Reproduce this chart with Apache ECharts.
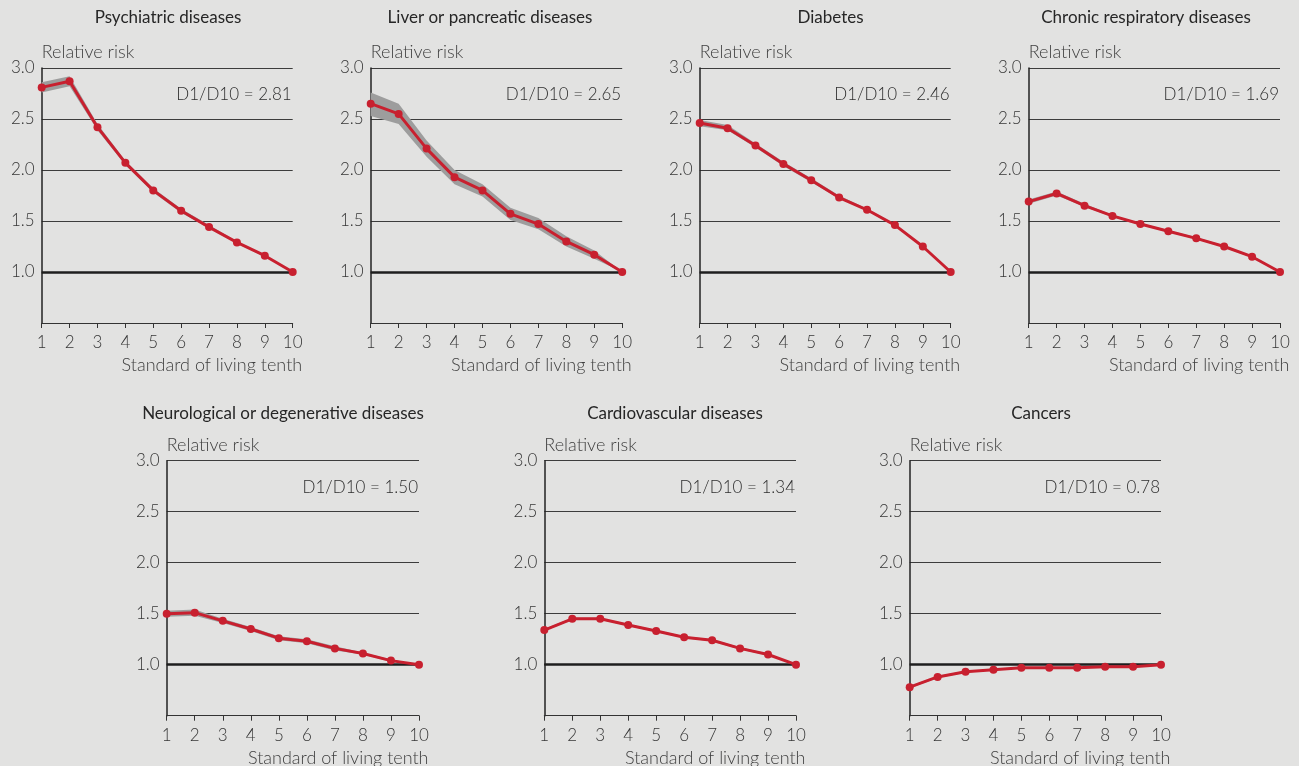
<!DOCTYPE html>
<html>
<head>
<meta charset="utf-8">
<script src="https://cdn.jsdelivr.net/npm/echarts@6/dist/echarts.min.js"></script>
<style>
  html, body { margin: 0; padding: 0; background: #e2e2e1; }
  #chart { width: 1299px; height: 766px; }
</style>
</head>
<body>
<div id="chart"></div>
<script>
// Standard-of-living tenths (D1 = poorest, D10 = reference)
const deciles = ['1', '2', '3', '4', '5', '6', '7', '8', '9', '10'];
const yTicks = [0.5, 1.0, 1.5, 2.0, 2.5, 3.0];

// Relative risk by tenth, with lower / upper confidence bounds
const psychRisk  = [2.81, 2.87, 2.42, 2.07, 1.80, 1.60, 1.44, 1.29, 1.16, 1.00];
const psychLow   = [2.76, 2.82, 2.39, 2.05, 1.78, 1.58, 1.43, 1.28, 1.15, 1.00];
const psychHigh  = [2.86, 2.92, 2.45, 2.09, 1.82, 1.62, 1.46, 1.30, 1.17, 1.00];

const liverRisk  = [2.65, 2.55, 2.21, 1.93, 1.80, 1.57, 1.47, 1.30, 1.17, 1.00];
const liverLow   = [2.53, 2.45, 2.13, 1.86, 1.74, 1.51, 1.42, 1.25, 1.13, 1.00];
const liverHigh  = [2.76, 2.65, 2.29, 2.00, 1.86, 1.63, 1.53, 1.35, 1.21, 1.00];

const diabRisk   = [2.46, 2.41, 2.24, 2.06, 1.90, 1.73, 1.61, 1.46, 1.25, 1.00];
const diabLow    = [2.43, 2.39, 2.22, 2.04, 1.88, 1.72, 1.60, 1.45, 1.24, 1.00];
const diabHigh   = [2.49, 2.44, 2.26, 2.08, 1.92, 1.75, 1.62, 1.47, 1.26, 1.00];

const respRisk   = [1.69, 1.77, 1.65, 1.55, 1.47, 1.40, 1.33, 1.25, 1.15, 1.00];
const respLow    = [1.67, 1.75, 1.64, 1.54, 1.46, 1.39, 1.32, 1.24, 1.14, 1.00];
const respHigh   = [1.71, 1.79, 1.67, 1.56, 1.48, 1.41, 1.34, 1.26, 1.16, 1.00];

const neuroRisk  = [1.50, 1.51, 1.43, 1.35, 1.26, 1.23, 1.16, 1.11, 1.04, 1.00];
const neuroLow   = [1.47, 1.48, 1.41, 1.33, 1.24, 1.21, 1.14, 1.10, 1.03, 1.00];
const neuroHigh  = [1.53, 1.54, 1.45, 1.37, 1.28, 1.25, 1.18, 1.12, 1.05, 1.00];

const cardioRisk = [1.34, 1.45, 1.45, 1.39, 1.33, 1.27, 1.24, 1.16, 1.10, 1.00];
const cardioLow  = [1.33, 1.44, 1.44, 1.38, 1.32, 1.26, 1.23, 1.15, 1.09, 1.00];
const cardioHigh = [1.35, 1.46, 1.46, 1.40, 1.34, 1.28, 1.25, 1.17, 1.11, 1.00];

const cancerRisk = [0.78, 0.88, 0.93, 0.95, 0.97, 0.97, 0.97, 0.98, 0.98, 1.00];
const cancerLow  = [0.77, 0.87, 0.92, 0.945, 0.965, 0.965, 0.965, 0.975, 0.975, 1.00];
const cancerHigh = [0.79, 0.89, 0.94, 0.955, 0.975, 0.975, 0.975, 0.985, 0.985, 1.00];

const panelTitles = [
  'Psychiatric diseases', 'Liver or pancreatic diseases', 'Diabetes',
  'Chronic respiratory diseases', 'Neurological or degenerative diseases',
  'Cardiovascular diseases', 'Cancers'
];
const yAxisName = 'Relative risk';
const xAxisName = 'Standard of living tenth';

const panels = [
  { risk: psychRisk,  low: psychLow,  high: psychHigh },
  { risk: liverRisk,  low: liverLow,  high: liverHigh },
  { risk: diabRisk,   low: diabLow,   high: diabHigh },
  { risk: respRisk,   low: respLow,   high: respHigh },
  { risk: neuroRisk,  low: neuroLow,  high: neuroHigh },
  { risk: cardioRisk, low: cardioLow, high: cardioHigh },
  { risk: cancerRisk, low: cancerLow, high: cancerHigh }
];

// Plot-area layout (pixels)
const layout = [
  { left: 41.7,  top: 68,    width: 251,   titleX: 168,   titleY: 18 },
  { left: 370.7, top: 68,    width: 251.5, titleX: 490,   titleY: 18 },
  { left: 699.7, top: 68,    width: 251,   titleX: 830.5, titleY: 18 },
  { left: 1028.7, top: 68,   width: 251.3, titleX: 1146,  titleY: 18 },
  { left: 166.7, top: 460.7, width: 252.3, titleX: 283,   titleY: 414 },
  { left: 544.3, top: 460.7, width: 251.7, titleX: 675,   titleY: 414 },
  { left: 909.7, top: 460.7, width: 251.3, titleX: 1041,  titleY: 414 }
];
const plotHeight = 255;

const FONT = 'Lato, "Open Sans", sans-serif';
const FS = 17;
const NAME_FS = 18;
const RED = '#c8202f';
const BAND = '#9d9d9d';

const grids = [], xAxes = [], yAxes = [], series = [], graphics = [];

panels.forEach((p, i) => {
  const L = layout[i];
  grids.push({ left: L.left, top: L.top, width: L.width, height: plotHeight, containLabel: false });

  xAxes.push({
    gridIndex: i, type: 'category', data: deciles, boundaryGap: false,
    axisLine: { show: true, lineStyle: { color: '#333', width: 1 } },
    axisTick: { show: true, length: 5, lineStyle: { color: '#333', width: 1 } },
    axisLabel: { interval: 0, margin: 11, color: '#363636', fontSize: FS, fontWeight: 300, fontFamily: FONT },
    splitLine: { show: false }
  });

  yAxes.push({
    gridIndex: i, type: 'value', min: yTicks[0], max: yTicks[yTicks.length - 1], interval: 0.5,
    axisLine: { show: true, lineStyle: { color: '#222', width: 1.5 } },
    axisTick: { show: false },
    axisLabel: {
      margin: 7, color: '#363636', fontSize: FS, fontWeight: 300, fontFamily: FONT,
      formatter: v => (Math.abs(v - yTicks[0]) < 1e-9 ? '' : v.toFixed(1))
    },
    splitLine: { show: true, lineStyle: { color: '#3c3c3c', width: 1 } }
  });

  const bandWidth = p.high.map((h, k) => +(h - p.low[k]).toFixed(4));

  // Lower bound (invisible) carries the reference line at 1.0
  series.push({
    type: 'line', xAxisIndex: i, yAxisIndex: i, stack: 'ci' + i,
    data: p.low, symbol: 'none', silent: true,
    lineStyle: { opacity: 0 },
    markLine: {
      silent: true, symbol: 'none', label: { show: false },
      lineStyle: { color: '#1e1e1e', width: 2.5, type: 'solid' },
      data: [{ yAxis: 1 }]
    }
  });
  // Confidence band
  series.push({
    type: 'line', xAxisIndex: i, yAxisIndex: i, stack: 'ci' + i,
    data: bandWidth, symbol: 'none', silent: true,
    lineStyle: { opacity: 0 },
    areaStyle: { color: BAND, opacity: 1 }
  });
  // Relative risk
  series.push({
    type: 'line', xAxisIndex: i, yAxisIndex: i, data: p.risk,
    symbol: 'circle', symbolSize: 8, z: 5,
    lineStyle: { color: RED, width: 3 },
    itemStyle: { color: RED }
  });

  graphics.push({
    type: 'text', x: L.titleX, y: L.titleY,
    style: { text: panelTitles[i], textAlign: 'center', textVerticalAlign: 'middle',
             fontSize: FS, fontFamily: FONT, fill: '#262626' }
  });

  const ratio = (p.risk[0] / p.risk[p.risk.length - 1]).toFixed(2);
  graphics.push({
    type: 'text', x: L.left + L.width - 1, y: L.top + 27,
    style: { text: 'D1/D10 = ' + ratio, textAlign: 'right', textVerticalAlign: 'middle',
             fontSize: FS, fontWeight: 300, fontFamily: FONT, fill: '#2e2e2e' }
  });
  graphics.push({
    type: 'text', x: L.left, y: L.top - 16,
    style: { text: yAxisName, textAlign: 'left', textVerticalAlign: 'middle',
             fontSize: NAME_FS, fontWeight: 300, fontFamily: FONT, fill: '#404040' }
  });
  graphics.push({
    type: 'text', x: L.left + L.width + 9.5, y: L.top + plotHeight + 42,
    style: { text: xAxisName, textAlign: 'right', textVerticalAlign: 'middle',
             fontSize: NAME_FS, fontWeight: 300, fontFamily: FONT, fill: '#404040' }
  });
});

const chart = echarts.init(document.getElementById('chart'), null, { renderer: 'canvas' });
chart.setOption({
  backgroundColor: '#e2e2e1',
  animation: false,
  grid: grids,
  xAxis: xAxes,
  yAxis: yAxes,
  series: series,
  graphic: graphics
});
</script>
</body>
</html>
